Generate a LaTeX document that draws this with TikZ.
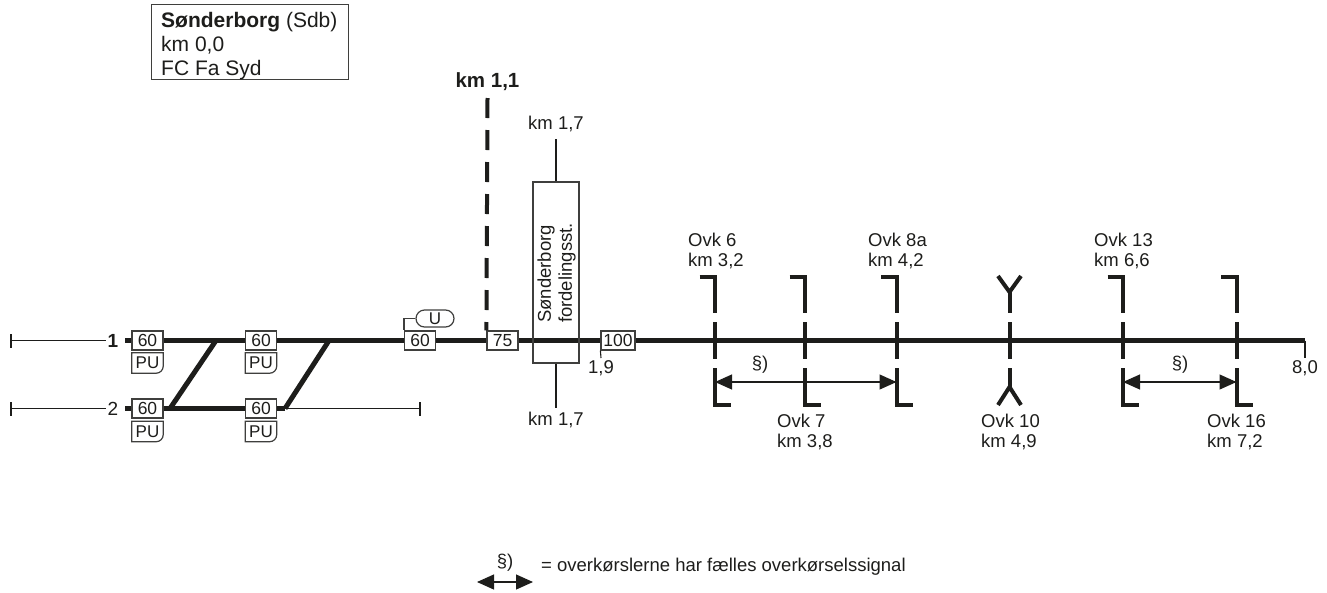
\documentclass[tikz,border=0pt]{standalone}
\usepackage{fontspec}
\setmainfont{Liberation Sans}
\usetikzlibrary{arrows.meta}
\definecolor{ink}{HTML}{1D1D1B}
\tikzset{
  thinline/.style={ink, line width=1.1pt},
  trackline/.style={ink, line width=5pt},
  sigline/.style={ink, line width=4pt},
  speedbox/.style={draw=ink!85, line width=1.2pt, text=ink, inner sep=0pt, minimum height=19pt, font=\fontsize{17.5}{18}\selectfont},
  pubox/.style={text=ink, inner sep=0pt, minimum width=31pt, minimum height=20pt, font=\fontsize{17}{18}\selectfont},
  lbl/.style={text=ink, inner sep=0pt, font=\fontsize{18.5}{20}\selectfont, align=left},
  bothtips/.style={{Triangle[length=17pt,width=15pt]}-{Triangle[length=17pt,width=15pt]}},
}
\begin{document}
\begin{tikzpicture}[x=1pt,y=-1pt]
    \useasboundingbox (0,0) rectangle (1327,592);

    % 1. Station box
    \node[draw=ink!85, line width=1.2pt, text=ink, anchor=north west, inner sep=0pt, minimum width=197pt, minimum height=75pt] (station) at (151,4) {};
    \node[lbl, anchor=west, font=\fontsize{21}{24}\selectfont] (stationtxt) at (161,46) {\textbf{Sønderborg} (Sdb)\\km 0,0\\FC Fa Syd};

    % 2. Speed boards on track 1 and track 2
    \foreach \name/\x/\y/\w/\txt in {a/147.5/340.5/31/60, b/261/340.5/31/60, c/420/340.5/31/60, d/502.5/340.5/31/75, e/618/340.5/34/100, f/147.5/408.5/31/60, g/261/408.5/31/60}
        \node[speedbox, minimum width=\w pt] (sp\name) at (\x,\y) {\txt};

    % PU boards with the one round corner
    \foreach \name/\x/\y in {a/147.5/363, b/261/363, f/147.5/431.5, g/261/431.5} {
        \node[pubox] (pu\name) at (\x,\y) {PU};
        \draw[draw=ink!85, line width=1.2pt] (pu\name.north west) -- (pu\name.north east) [rounded corners=7pt] -- (pu\name.south east) [sharp corners] -- (pu\name.south west) -- cycle;
    }

    % 3. Track 1
    \node[lbl, font=\fontsize{19}{20}\selectfont\bfseries, inner sep=2pt] (one) at (113,340.5) {1};
    \coordinate (oneL) at (11,340.5);
    \coordinate (oneS) at (125,340.5);
    \coordinate (sw1) at (216,340.5);
    \coordinate (sw2) at (329,340.5);
    \coordinate (oneE) at (1305,340.5);
    \draw[thinline] (oneL) -- (one);
    \draw[thinline] (11,334) -- (11,348);
    \draw[trackline] (oneS) -- (spa) (spa) -- (spb) (spb) -- (spc) (spc) -- (spd) (spd) -- (spe) (spe) -- (oneE);

    % 4. Track 2 and the two crossovers
    \node[lbl, font=\fontsize{19}{20}\selectfont, inner sep=2pt] (two) at (113,408.5) {2};
    \coordinate (twoL) at (11,408.5);
    \coordinate (twoS) at (125,408.5);
    \coordinate (sw3) at (170,408.5);
    \coordinate (sw4) at (285,408.5);
    \coordinate (twoE) at (420,408.5);
    \draw[thinline] (twoL) -- (two);
    \draw[thinline] (11,402) -- (11,416);
    \draw[thinline] (sw4) -- (twoE);
    \draw[thinline] (420,402) -- (420,416);
    \draw[trackline] (twoS) -- (spf) (spf) -- (spg) (spg) -- (sw4);
    \draw[trackline] (sw3) -- (sw1);
    \draw[trackline] (sw4) -- (sw2);

    % 5. U board above the third speed board
    \node[draw=ink!85, line width=1.2pt, text=ink, rounded corners=8.5pt, inner sep=0pt, minimum width=38pt, minimum height=17pt, font=\fontsize{17}{18}\selectfont] (ub) at (435,318.5) {U};
    \draw[draw=ink!85, line width=1.2pt] (ub.west) -| (spc.north west);

    % 6. Bold line at km 1,1
    \node[lbl, font=\fontsize{20.5}{22}\selectfont\bfseries] (kmbold) at (487.5,81.5) {km 1,1};
    \coordinate (kmtop) at (487.5,98);
    \draw[ink, line width=4pt, dash pattern=on 20pt off 12pt] (kmtop) -- (spd.north west);

    % 7. Fordelingsstation
    \node[draw=ink!85, line width=1.2pt, inner sep=0pt, minimum width=46pt, minimum height=181pt] (fst) at (556,272.5) {};
    \node[lbl, rotate=90, anchor=center, align=left, font=\fontsize{18.5}{21}\selectfont] (fsttxt) at (556.5,273) {Sønderborg\\fordelingsst.};
    \node[lbl] (fsttop) at (556,124) {km 1,7};
    \node[lbl] (fstbot) at (556,420) {km 1,7};
    \coordinate (fsttopend) at (556,139);
    \coordinate (fstbotend) at (556,408);
    \draw[thinline] (fsttopend) -- (fst.north);
    \draw[thinline] (fst.south) -- (fstbotend);

    % 8. Kilometre ticks
    \node[lbl] (km19) at (601,368.5) {1,9};
    \node[lbl] (km80) at (1305,368.5) {8,0};
    \coordinate (km19a) at (601,358);
    \coordinate (km80a) at (1305,358);
    \draw[thinline] (spe.south west) -- (km19a);
    \draw[thinline] (oneE) -- (km80a);

    % 9. Level crossings with bent ends
    \foreach \name/\x in {six/715, seven/805, eight/896.5, thirteen/1123, sixteen/1236.5} {
        \draw[sigline] (\x-15.5,276.5) -| (\x,313);
        \draw[sigline] (\x,322) -- (\x,359);
        \draw[sigline] (\x,368) |- (\x+16,405);
        \coordinate (\name) at (\x,382);
    }

    % forked ends at Ovk 10
    \draw[sigline] (998,276) -- (1009.5,292) -- (1021,276);
    \draw[sigline] (1009.5,292) -- (1009.5,313);
    \draw[sigline] (1009.5,322) -- (1009.5,359);
    \draw[sigline] (1009.5,368) -- (1009.5,387);
    \draw[sigline] (998,405) -- (1009.5,387) -- (1021,405);

    % 10. Crossing labels
    \foreach \name/\x/\y/\txt in {la/688/250.5/{Ovk 6\\km 3,2}, lb/777/431.5/{Ovk 7\\km 3,8}, lc/868/250.5/{Ovk 8a\\km 4,2}, ld/981/431.5/{Ovk 10\\km 4,9}, le/1094/250.5/{Ovk 13\\km 6,6}, lf/1207/431.5/{Ovk 16\\km 7,2}}
        \node[lbl, anchor=west] (\name) at (\x,\y) {\txt};

    % 11. Common signal arrows
    \draw[thinline, bothtips] (six) -- (eight);
    \draw[thinline, bothtips] (thirteen) -- (sixteen);
    \node[lbl] (secA) at (760,365) {§)};
    \node[lbl] (secB) at (1180,365) {§)};

    % 12. Legend
    \coordinate (legL) at (477,582);
    \coordinate (legR) at (533,582);
    \draw[thinline, bothtips] (legL) -- (legR);
    \node[lbl] (secC) at (505,562.5) {§)};
    \node[lbl, anchor=west] (legtxt) at (541,566.5) {= overkørslerne har fælles overkørselssignal};
\end{tikzpicture}
\end{document}
